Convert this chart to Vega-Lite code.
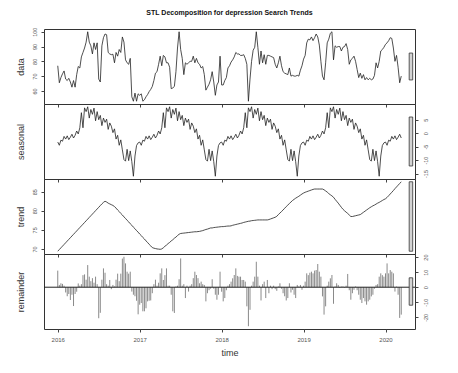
{
"$schema": "https://vega.github.io/schema/vega-lite/v6.json",
"autosize": {"type": "pad"},
"padding": {"left": 15, "top": 8, "right": 5, "bottom": 5},
"background": "white",
"bounds": "flush",
"spacing": 0,
"config": {
  "font": "Liberation Sans",
  "view": {"stroke": "#333", "strokeWidth": 1},
  "axis": {"labelFont": "Liberation Sans", "titleFont": "Liberation Sans", "labelColor": "#555", "titleColor": "#333", "tickColor": "#444", "domain": false, "grid": false, "titleFontWeight": "normal", "labelOverlap": false, "labelFlush": false, "labelBound": false}
},
"datasets": {
"bars": [
{"panel": "data", "lo": 67.4, "hi": 85.6},
{"panel": "seasonal", "lo": -12.2, "hi": 6.0},
{"panel": "trend", "lo": 69.4, "hi": 87.6},
{"panel": "remainder", "lo": -11.95, "hi": 6.25}
],
"ts": [
{"t":2016,"data":77,"seasonal":-3.3,"trend":69.4,"remainder":11},
{"t":2016.0192,"data":65.5,"seasonal":-4.5,"trend":69.84,"remainder":1.5},
{"t":2016.0385,"data":69,"seasonal":-2.6,"trend":70.29,"remainder":2.6},
{"t":2016.0577,"data":71.5,"seasonal":-3.0,"trend":70.73,"remainder":2.2},
{"t":2016.0769,"data":73.5,"seasonal":-1.2,"trend":71.17,"remainder":1.0},
{"t":2016.0962,"data":68,"seasonal":-2.2,"trend":71.61,"remainder":-3.5},
{"t":2016.1154,"data":67,"seasonal":-1.0,"trend":72.06,"remainder":-6},
{"t":2016.1346,"data":68.5,"seasonal":-2.4,"trend":72.5,"remainder":-4.5},
{"t":2016.1538,"data":66,"seasonal":-1.5,"trend":72.94,"remainder":-8.5},
{"t":2016.1731,"data":62.5,"seasonal":-0.4,"trend":73.39,"remainder":-5},
{"t":2016.1923,"data":67,"seasonal":-1.8,"trend":73.83,"remainder":-12.5},
{"t":2016.2115,"data":62.5,"seasonal":-0.8,"trend":74.27,"remainder":-4.5},
{"t":2016.2308,"data":71,"seasonal":0.8,"trend":74.71,"remainder":-3},
{"t":2016.25,"data":76.5,"seasonal":-0.3,"trend":75.16,"remainder":2.5},
{"t":2016.2692,"data":75.5,"seasonal":2.0,"trend":75.6,"remainder":1},
{"t":2016.2885,"data":83,"seasonal":7.6,"trend":76.04,"remainder":2},
{"t":2016.3077,"data":86,"seasonal":2.0,"trend":76.48,"remainder":8},
{"t":2016.3269,"data":89,"seasonal":9.4,"trend":76.93,"remainder":8.5},
{"t":2016.3462,"data":93,"seasonal":8.0,"trend":77.37,"remainder":5},
{"t":2016.3654,"data":100,"seasonal":9.8,"trend":77.81,"remainder":14.7},
{"t":2016.3846,"data":93,"seasonal":5.6,"trend":78.26,"remainder":7},
{"t":2016.4038,"data":90.5,"seasonal":8.8,"trend":78.7,"remainder":4},
{"t":2016.4231,"data":85,"seasonal":7.0,"trend":79.14,"remainder":6},
{"t":2016.4423,"data":92.5,"seasonal":9.3,"trend":79.58,"remainder":3},
{"t":2016.4615,"data":88,"seasonal":4.6,"trend":80.03,"remainder":7},
{"t":2016.4808,"data":92.5,"seasonal":8.0,"trend":80.47,"remainder":2},
{"t":2016.5,"data":68,"seasonal":5.0,"trend":80.91,"remainder":-20.6},
{"t":2016.5192,"data":66,"seasonal":6.6,"trend":81.36,"remainder":-17},
{"t":2016.5385,"data":90.5,"seasonal":2.8,"trend":81.8,"remainder":5},
{"t":2016.5577,"data":96,"seasonal":5.6,"trend":82.2,"remainder":12.5},
{"t":2016.5769,"data":98.5,"seasonal":4.0,"trend":82.5,"remainder":9.6},
{"t":2016.5962,"data":98,"seasonal":5.2,"trend":82.3,"remainder":2},
{"t":2016.6154,"data":86,"seasonal":1.4,"trend":82.0,"remainder":1},
{"t":2016.6346,"data":85,"seasonal":3.8,"trend":81.8,"remainder":4.8},
{"t":2016.6538,"data":84.5,"seasonal":2.6,"trend":81.6,"remainder":-1.3},
{"t":2016.6731,"data":84.8,"seasonal":0.2,"trend":81.4,"remainder":1.5},
{"t":2016.6923,"data":79,"seasonal":1.6,"trend":81.1,"remainder":0.5},
{"t":2016.7115,"data":86,"seasonal":-2.2,"trend":80.7,"remainder":5},
{"t":2016.7308,"data":83.5,"seasonal":-0.8,"trend":80.2,"remainder":9},
{"t":2016.75,"data":88,"seasonal":-4.5,"trend":79.8,"remainder":4},
{"t":2016.7692,"data":86,"seasonal":-2.5,"trend":79.3,"remainder":9},
{"t":2016.7885,"data":96.5,"seasonal":-6.2,"trend":78.9,"remainder":19},
{"t":2016.8077,"data":93,"seasonal":-9.8,"trend":78.4,"remainder":20.2},
{"t":2016.8269,"data":81,"seasonal":-10.4,"trend":78.0,"remainder":15.8},
{"t":2016.8462,"data":79,"seasonal":-6.0,"trend":77.5,"remainder":10.3},
{"t":2016.8654,"data":78,"seasonal":-10.2,"trend":77.1,"remainder":9},
{"t":2016.8846,"data":82,"seasonal":-6.6,"trend":76.6,"remainder":10.3},
{"t":2016.9038,"data":56,"seasonal":-10.6,"trend":76.2,"remainder":-2.9},
{"t":2016.9231,"data":53,"seasonal":-16.0,"trend":75.7,"remainder":-5},
{"t":2016.9423,"data":58.5,"seasonal":-8.5,"trend":75.3,"remainder":-6},
{"t":2016.9615,"data":53,"seasonal":-4.6,"trend":74.8,"remainder":-9},
{"t":2016.9808,"data":58,"seasonal":-3.6,"trend":74.4,"remainder":-18},
{"t":2017,"data":57,"seasonal":-3.3,"trend":73.9,"remainder":-11.6},
{"t":2017.0192,"data":58,"seasonal":-4.5,"trend":73.5,"remainder":-10.5},
{"t":2017.0385,"data":53,"seasonal":-2.6,"trend":73.0,"remainder":-16},
{"t":2017.0577,"data":54,"seasonal":-3.0,"trend":72.6,"remainder":-16},
{"t":2017.0769,"data":56,"seasonal":-1.2,"trend":72.1,"remainder":-14},
{"t":2017.0962,"data":57.5,"seasonal":-2.2,"trend":71.7,"remainder":-9.4},
{"t":2017.1154,"data":59.5,"seasonal":-1.0,"trend":71.2,"remainder":-9},
{"t":2017.1346,"data":61,"seasonal":-2.4,"trend":70.8,"remainder":-8.8},
{"t":2017.1538,"data":63,"seasonal":-1.5,"trend":70.35,"remainder":-4},
{"t":2017.1731,"data":67,"seasonal":-0.4,"trend":70.2,"remainder":2},
{"t":2017.1923,"data":72,"seasonal":-1.8,"trend":70.1,"remainder":5},
{"t":2017.2115,"data":73,"seasonal":-0.8,"trend":70.0,"remainder":1},
{"t":2017.2308,"data":78,"seasonal":0.8,"trend":69.95,"remainder":3},
{"t":2017.25,"data":83.5,"seasonal":-0.3,"trend":69.9,"remainder":9.2},
{"t":2017.2692,"data":77,"seasonal":2.0,"trend":70.0,"remainder":12.5},
{"t":2017.2885,"data":84,"seasonal":7.6,"trend":70.3,"remainder":4.8},
{"t":2017.3077,"data":83,"seasonal":2.0,"trend":70.7,"remainder":8},
{"t":2017.3269,"data":79,"seasonal":9.4,"trend":71.0,"remainder":12.5},
{"t":2017.3462,"data":79,"seasonal":8.0,"trend":71.4,"remainder":1},
{"t":2017.3654,"data":76,"seasonal":9.8,"trend":71.7,"remainder":1},
{"t":2017.3846,"data":61.5,"seasonal":5.6,"trend":72.1,"remainder":-5},
{"t":2017.4038,"data":62,"seasonal":8.8,"trend":72.4,"remainder":-16},
{"t":2017.4231,"data":63,"seasonal":7.0,"trend":72.8,"remainder":-17.1},
{"t":2017.4423,"data":73,"seasonal":9.3,"trend":73.1,"remainder":0.5},
{"t":2017.4615,"data":89,"seasonal":4.6,"trend":73.5,"remainder":1},
{"t":2017.4808,"data":100,"seasonal":8.0,"trend":73.85,"remainder":5.3},
{"t":2017.5,"data":88,"seasonal":5.0,"trend":74.05,"remainder":19.1},
{"t":2017.5192,"data":82,"seasonal":6.6,"trend":74.1,"remainder":1},
{"t":2017.5385,"data":71,"seasonal":2.8,"trend":74.15,"remainder":2},
{"t":2017.5577,"data":79,"seasonal":5.6,"trend":74.2,"remainder":-7.2},
{"t":2017.5769,"data":78,"seasonal":4.0,"trend":74.25,"remainder":1},
{"t":2017.5962,"data":79,"seasonal":5.2,"trend":74.3,"remainder":-2.9},
{"t":2017.6154,"data":80,"seasonal":1.4,"trend":74.35,"remainder":1},
{"t":2017.6346,"data":80,"seasonal":3.8,"trend":74.4,"remainder":2},
{"t":2017.6538,"data":83.5,"seasonal":2.6,"trend":74.45,"remainder":6},
{"t":2017.6731,"data":79,"seasonal":0.2,"trend":74.5,"remainder":10.3},
{"t":2017.6923,"data":82,"seasonal":1.6,"trend":74.5,"remainder":8.1},
{"t":2017.7115,"data":79,"seasonal":-2.2,"trend":74.55,"remainder":6},
{"t":2017.7308,"data":78,"seasonal":-0.8,"trend":74.6,"remainder":2.6},
{"t":2017.75,"data":75.5,"seasonal":-4.5,"trend":74.7,"remainder":3.7},
{"t":2017.7692,"data":76.5,"seasonal":-2.5,"trend":74.8,"remainder":2},
{"t":2017.7885,"data":71,"seasonal":-6.2,"trend":74.95,"remainder":1.5},
{"t":2017.8077,"data":60.5,"seasonal":-9.8,"trend":75.1,"remainder":-9.4},
{"t":2017.8269,"data":62.5,"seasonal":-10.4,"trend":75.2,"remainder":-4},
{"t":2017.8462,"data":64.5,"seasonal":-6.0,"trend":75.35,"remainder":-2},
{"t":2017.8654,"data":67.5,"seasonal":-10.2,"trend":75.5,"remainder":-1},
{"t":2017.8846,"data":73,"seasonal":-6.6,"trend":75.5,"remainder":5.3},
{"t":2017.9038,"data":66,"seasonal":-10.6,"trend":75.6,"remainder":-1},
{"t":2017.9231,"data":57,"seasonal":-16.0,"trend":75.65,"remainder":-5},
{"t":2017.9423,"data":64,"seasonal":-8.5,"trend":75.7,"remainder":-8.3},
{"t":2017.9615,"data":66,"seasonal":-4.6,"trend":75.75,"remainder":-5},
{"t":2017.9808,"data":83.5,"seasonal":-3.6,"trend":75.8,"remainder":10.3},
{"t":2018,"data":64,"seasonal":-3.3,"trend":75.85,"remainder":-3},
{"t":2018.0192,"data":64,"seasonal":-4.5,"trend":75.85,"remainder":-9.4},
{"t":2018.0385,"data":67,"seasonal":-2.6,"trend":75.9,"remainder":-7.2},
{"t":2018.0577,"data":69,"seasonal":-3.0,"trend":75.95,"remainder":-2},
{"t":2018.0769,"data":75.5,"seasonal":-1.2,"trend":76.0,"remainder":1},
{"t":2018.0962,"data":77,"seasonal":-2.2,"trend":76.0,"remainder":2},
{"t":2018.1154,"data":79.5,"seasonal":-1.0,"trend":76.05,"remainder":3.7},
{"t":2018.1346,"data":81,"seasonal":-2.4,"trend":76.2,"remainder":5.9},
{"t":2018.1538,"data":83,"seasonal":-1.5,"trend":76.3,"remainder":8.1},
{"t":2018.1731,"data":86,"seasonal":-0.4,"trend":76.4,"remainder":12.5},
{"t":2018.1923,"data":85,"seasonal":-1.8,"trend":76.5,"remainder":7.5},
{"t":2018.2115,"data":85,"seasonal":-0.8,"trend":76.6,"remainder":7},
{"t":2018.2308,"data":84,"seasonal":0.8,"trend":76.7,"remainder":7},
{"t":2018.25,"data":84,"seasonal":-0.3,"trend":76.8,"remainder":4.8},
{"t":2018.2692,"data":84.5,"seasonal":2.0,"trend":76.95,"remainder":4.8},
{"t":2018.2885,"data":82,"seasonal":7.6,"trend":77.05,"remainder":3.7},
{"t":2018.3077,"data":78,"seasonal":2.0,"trend":77.15,"remainder":-12.7},
{"t":2018.3269,"data":53,"seasonal":9.4,"trend":77.25,"remainder":-25.9},
{"t":2018.3462,"data":68,"seasonal":8.0,"trend":77.3,"remainder":-15},
{"t":2018.3654,"data":80,"seasonal":9.8,"trend":77.4,"remainder":1},
{"t":2018.3846,"data":87.5,"seasonal":5.6,"trend":77.45,"remainder":3.7},
{"t":2018.4038,"data":89.5,"seasonal":8.8,"trend":77.5,"remainder":7},
{"t":2018.4231,"data":100,"seasonal":7.0,"trend":77.55,"remainder":16.9},
{"t":2018.4423,"data":89.5,"seasonal":9.3,"trend":77.6,"remainder":7},
{"t":2018.4615,"data":78,"seasonal":4.6,"trend":77.6,"remainder":1},
{"t":2018.4808,"data":87,"seasonal":8.0,"trend":77.6,"remainder":-8.8},
{"t":2018.5,"data":79,"seasonal":5.0,"trend":77.6,"remainder":2},
{"t":2018.5192,"data":84.5,"seasonal":6.6,"trend":77.6,"remainder":3.7},
{"t":2018.5385,"data":78,"seasonal":2.8,"trend":77.6,"remainder":-7.2},
{"t":2018.5577,"data":84,"seasonal":5.6,"trend":77.6,"remainder":4.8},
{"t":2018.5769,"data":84,"seasonal":4.0,"trend":77.7,"remainder":-4},
{"t":2018.5962,"data":83.5,"seasonal":5.2,"trend":77.85,"remainder":1},
{"t":2018.6154,"data":83,"seasonal":1.4,"trend":78.0,"remainder":-1.3},
{"t":2018.6346,"data":82.5,"seasonal":3.8,"trend":78.15,"remainder":1},
{"t":2018.6538,"data":78,"seasonal":2.6,"trend":78.3,"remainder":-1.3},
{"t":2018.6731,"data":75.5,"seasonal":0.2,"trend":78.55,"remainder":-2.4},
{"t":2018.6923,"data":79,"seasonal":1.6,"trend":79.0,"remainder":0.5},
{"t":2018.7115,"data":83.5,"seasonal":-2.2,"trend":79.4,"remainder":2.6},
{"t":2018.7308,"data":77,"seasonal":-0.8,"trend":79.8,"remainder":-1},
{"t":2018.75,"data":73,"seasonal":-4.5,"trend":80.2,"remainder":-4},
{"t":2018.7692,"data":72,"seasonal":-2.5,"trend":80.65,"remainder":-6},
{"t":2018.7885,"data":71.5,"seasonal":-6.2,"trend":81.1,"remainder":-8.8},
{"t":2018.8077,"data":71,"seasonal":-9.8,"trend":81.5,"remainder":-7.2},
{"t":2018.8269,"data":75.5,"seasonal":-10.4,"trend":81.9,"remainder":2.6},
{"t":2018.8462,"data":70,"seasonal":-6.0,"trend":82.3,"remainder":-3.5},
{"t":2018.8654,"data":70.5,"seasonal":-10.2,"trend":82.7,"remainder":-1.7},
{"t":2018.8846,"data":70,"seasonal":-6.6,"trend":83.0,"remainder":-5},
{"t":2018.9038,"data":70,"seasonal":-10.6,"trend":83.3,"remainder":-7.2},
{"t":2018.9231,"data":70.5,"seasonal":-16.0,"trend":83.55,"remainder":1.5},
{"t":2018.9423,"data":70,"seasonal":-8.5,"trend":83.8,"remainder":0.5},
{"t":2018.9615,"data":74,"seasonal":-4.6,"trend":84.1,"remainder":1.5},
{"t":2018.9808,"data":77,"seasonal":-3.6,"trend":84.4,"remainder":-1.7},
{"t":2019,"data":81.5,"seasonal":-3.3,"trend":84.65,"remainder":1},
{"t":2019.0192,"data":84,"seasonal":-4.5,"trend":84.85,"remainder":3.7},
{"t":2019.0385,"data":92.5,"seasonal":-2.6,"trend":85.0,"remainder":9.2},
{"t":2019.0577,"data":95,"seasonal":-3.0,"trend":85.15,"remainder":8},
{"t":2019.0769,"data":94.5,"seasonal":-1.2,"trend":85.3,"remainder":9.6},
{"t":2019.0962,"data":96.5,"seasonal":-2.2,"trend":85.45,"remainder":10.3},
{"t":2019.1154,"data":94,"seasonal":-1.0,"trend":85.6,"remainder":9.2},
{"t":2019.1346,"data":96,"seasonal":-2.4,"trend":85.7,"remainder":11},
{"t":2019.1538,"data":98.5,"seasonal":-1.5,"trend":85.7,"remainder":11.4},
{"t":2019.1731,"data":96.5,"seasonal":-0.4,"trend":85.7,"remainder":15.4},
{"t":2019.1923,"data":91,"seasonal":-1.8,"trend":85.7,"remainder":10.3},
{"t":2019.2115,"data":80,"seasonal":-0.8,"trend":85.7,"remainder":7},
{"t":2019.2308,"data":70,"seasonal":0.8,"trend":85.7,"remainder":-6.1},
{"t":2019.25,"data":67.5,"seasonal":-0.3,"trend":85.5,"remainder":-18.2},
{"t":2019.2692,"data":79,"seasonal":2.0,"trend":85.2,"remainder":-12.7},
{"t":2019.2885,"data":92.5,"seasonal":7.6,"trend":84.9,"remainder":1},
{"t":2019.3077,"data":95,"seasonal":2.0,"trend":84.5,"remainder":3.7},
{"t":2019.3269,"data":99,"seasonal":9.4,"trend":84.2,"remainder":5.9},
{"t":2019.3462,"data":100,"seasonal":8.0,"trend":83.9,"remainder":8.1},
{"t":2019.3654,"data":81,"seasonal":9.8,"trend":83.55,"remainder":-11},
{"t":2019.3846,"data":90.5,"seasonal":5.6,"trend":83.0,"remainder":0.5},
{"t":2019.4038,"data":89.5,"seasonal":8.8,"trend":82.5,"remainder":2.6},
{"t":2019.4231,"data":90,"seasonal":7.0,"trend":82.0,"remainder":1.5},
{"t":2019.4423,"data":90,"seasonal":9.3,"trend":81.45,"remainder":-0.5},
{"t":2019.4615,"data":87,"seasonal":4.6,"trend":80.9,"remainder":0.4},
{"t":2019.4808,"data":89.5,"seasonal":8.0,"trend":80.4,"remainder":0.5},
{"t":2019.5,"data":90,"seasonal":5.0,"trend":80.0,"remainder":-0.3},
{"t":2019.5192,"data":92,"seasonal":6.6,"trend":79.65,"remainder":1},
{"t":2019.5385,"data":88,"seasonal":2.8,"trend":79.3,"remainder":8.8},
{"t":2019.5577,"data":78,"seasonal":5.6,"trend":78.9,"remainder":-2},
{"t":2019.5769,"data":81,"seasonal":4.0,"trend":78.5,"remainder":-8.3},
{"t":2019.5962,"data":82,"seasonal":5.2,"trend":78.5,"remainder":-4},
{"t":2019.6154,"data":83.5,"seasonal":1.4,"trend":78.6,"remainder":-1.7},
{"t":2019.6346,"data":80,"seasonal":3.8,"trend":78.7,"remainder":0.5},
{"t":2019.6538,"data":74.5,"seasonal":2.6,"trend":78.8,"remainder":-2},
{"t":2019.6731,"data":69,"seasonal":0.2,"trend":78.9,"remainder":-5},
{"t":2019.6923,"data":72,"seasonal":1.6,"trend":79.0,"remainder":-8.3},
{"t":2019.7115,"data":68.5,"seasonal":-2.2,"trend":79.3,"remainder":-10.5},
{"t":2019.7308,"data":71,"seasonal":-0.8,"trend":79.6,"remainder":-7.2},
{"t":2019.75,"data":67.5,"seasonal":-4.5,"trend":79.9,"remainder":-9.4},
{"t":2019.7692,"data":69,"seasonal":-2.5,"trend":80.2,"remainder":-11.6},
{"t":2019.7885,"data":67.5,"seasonal":-6.2,"trend":80.5,"remainder":-9.4},
{"t":2019.8077,"data":68.5,"seasonal":-9.8,"trend":80.8,"remainder":-8.3},
{"t":2019.8269,"data":67.5,"seasonal":-10.4,"trend":81.05,"remainder":-6.1},
{"t":2019.8462,"data":68,"seasonal":-6.0,"trend":81.3,"remainder":-5},
{"t":2019.8654,"data":70.5,"seasonal":-10.2,"trend":81.5,"remainder":-1},
{"t":2019.8846,"data":79,"seasonal":-6.6,"trend":81.75,"remainder":1.5},
{"t":2019.9038,"data":75.5,"seasonal":-10.6,"trend":82.0,"remainder":2},
{"t":2019.9231,"data":80,"seasonal":-16.0,"trend":82.2,"remainder":7},
{"t":2019.9423,"data":87,"seasonal":-8.5,"trend":82.45,"remainder":9.2},
{"t":2019.9615,"data":88,"seasonal":-4.6,"trend":82.7,"remainder":8},
{"t":2019.9808,"data":89.5,"seasonal":-3.6,"trend":82.95,"remainder":7},
{"t":2020,"data":91.5,"seasonal":-3.3,"trend":83.15,"remainder":9.2},
{"t":2020.0192,"data":92.5,"seasonal":-4.5,"trend":83.5,"remainder":15.8},
{"t":2020.0385,"data":94,"seasonal":-2.6,"trend":83.95,"remainder":9.2},
{"t":2020.0577,"data":96,"seasonal":-3.0,"trend":84.4,"remainder":11.4},
{"t":2020.0769,"data":95.5,"seasonal":-1.2,"trend":84.85,"remainder":10.3},
{"t":2020.0962,"data":89,"seasonal":-2.2,"trend":85.3,"remainder":9.2},
{"t":2020.1154,"data":80,"seasonal":-1.0,"trend":85.8,"remainder":-2.9},
{"t":2020.1346,"data":84,"seasonal":-2.4,"trend":86.25,"remainder":0.4},
{"t":2020.1538,"data":76,"seasonal":-1.5,"trend":86.7,"remainder":-5},
{"t":2020.1731,"data":65.5,"seasonal":-0.4,"trend":87.15,"remainder":-20.4},
{"t":2020.1923,"data":70,"seasonal":-1.8,"trend":87.6,"remainder":-18.2}
]
},
"vconcat": [
{
  "width": 371, "height": 75,
  "title": {"text": "STL Decomposition for depression Search Trends", "font": "Liberation Sans", "fontSize": 7, "fontWeight": "bold", "color": "#111", "anchor": "middle", "frame": "group", "offset": 11},
  "resolve": {"axis": {"x": "independent", "y": "independent"}},
  "layer": [
    {"data": {"name": "ts"}, "mark": {"type": "line", "color": "#222", "strokeWidth": 0.8},
     "encoding": {
       "x": {"field": "t", "type": "quantitative", "scale": {"domain": [2015.832, 2020.36], "nice": false, "zero": false}, "axis": {"values": [2016, 2017, 2018, 2019, 2020], "labels": false, "tickSize": 3, "title": null}},
       "y": {"field": "data", "type": "quantitative", "scale": {"domain": [51.12, 101.88], "nice": false, "zero": false}, "axis": {"orient": "left", "values": [60, 70, 80, 90, 100], "labelAngle": -90, "labelFontSize": 5.5, "tickSize": 3, "labelPadding": 4, "minExtent": 14, "maxExtent": 14, "title": "data", "titleFontSize": 9, "titleFontWeight": "normal", "titlePadding": 5}}
     }},
    {"data": {"name": "bars"}, "transform": [{"filter": "datum.panel === 'data'"}], "mark": {"type": "rect", "fill": "#d3d3d3", "stroke": "#333", "strokeWidth": 0.8},
     "encoding": {
       "x": {"datum": 2020.289, "scale": {"domain": [2015.832, 2020.36], "nice": false, "zero": false}, "axis": null}, "x2": {"datum": 2020.332},
       "y": {"field": "lo", "type": "quantitative", "scale": {"domain": [51.12, 101.88], "nice": false, "zero": false}, "axis": null}, "y2": {"field": "hi"}
     }}
  ]
},
{
  "width": 371, "height": 75,
  "resolve": {"axis": {"x": "independent", "y": "independent"}},
  "layer": [
    {"data": {"name": "ts"}, "mark": {"type": "line", "color": "#222", "strokeWidth": 0.8},
     "encoding": {
       "x": {"field": "t", "type": "quantitative", "scale": {"domain": [2015.832, 2020.36], "nice": false, "zero": false}, "axis": {"values": [2016, 2017, 2018, 2019, 2020], "labels": false, "tickSize": 3, "title": null}},
       "y": {"field": "seasonal", "type": "quantitative", "scale": {"domain": [-17.032, 10.832], "nice": false, "zero": false}, "axis": {"orient": "left", "labels": false, "ticks": false, "minExtent": 14, "maxExtent": 14, "title": "seasonal", "titleFontSize": 9, "titleFontWeight": "normal", "titlePadding": 5}}
     }},
    {"data": {"name": "bars"}, "transform": [{"filter": "datum.panel === 'seasonal'"}], "mark": {"type": "rect", "fill": "#d3d3d3", "stroke": "#333", "strokeWidth": 0.8},
     "encoding": {
       "x": {"datum": 2020.289, "scale": {"domain": [2015.832, 2020.36], "nice": false, "zero": false}, "axis": null}, "x2": {"datum": 2020.332},
       "y": {"field": "lo", "type": "quantitative", "scale": {"domain": [-17.032, 10.832], "nice": false, "zero": false}, "axis": {"orient": "right", "values": [-15, -10, -5, 0, 5], "labelExpr": "'' + datum.value", "labelAngle": -90, "labelFontSize": 5.5, "tickSize": 3, "labelPadding": 5.5, "minExtent": 0, "title": null}}, "y2": {"field": "hi"}
     }}
  ]
},
{
  "width": 371, "height": 75,
  "resolve": {"axis": {"x": "independent", "y": "independent"}},
  "layer": [
    {"data": {"name": "ts"}, "mark": {"type": "line", "color": "#222", "strokeWidth": 0.8},
     "encoding": {
       "x": {"field": "t", "type": "quantitative", "scale": {"domain": [2015.832, 2020.36], "nice": false, "zero": false}, "axis": {"values": [2016, 2017, 2018, 2019, 2020], "labels": false, "tickSize": 3, "title": null}},
       "y": {"field": "trend", "type": "quantitative", "scale": {"domain": [68.672, 88.328], "nice": false, "zero": false}, "axis": {"orient": "left", "values": [70, 75, 80, 85], "labelAngle": -90, "labelFontSize": 5.5, "tickSize": 3, "labelPadding": 4, "minExtent": 14, "maxExtent": 14, "title": "trend", "titleFontSize": 9, "titleFontWeight": "normal", "titlePadding": 5}}
     }},
    {"data": {"name": "bars"}, "transform": [{"filter": "datum.panel === 'trend'"}], "mark": {"type": "rect", "fill": "#d3d3d3", "stroke": "#333", "strokeWidth": 0.8},
     "encoding": {
       "x": {"datum": 2020.289, "scale": {"domain": [2015.832, 2020.36], "nice": false, "zero": false}, "axis": null}, "x2": {"datum": 2020.332},
       "y": {"field": "lo", "type": "quantitative", "scale": {"domain": [68.672, 88.328], "nice": false, "zero": false}, "axis": null}, "y2": {"field": "hi"}
     }}
  ]
},
{
  "width": 371, "height": 75,
  "resolve": {"axis": {"x": "independent", "y": "independent"}},
  "layer": [
    {"data": {"name": "ts"}, "mark": {"type": "rule", "color": "#8a8a8a", "strokeWidth": 1},
     "encoding": {
       "x": {"field": "t", "type": "quantitative", "scale": {"domain": [2015.832, 2020.36], "nice": false, "zero": false}, "axis": {"values": [2016, 2017, 2018, 2019, 2020], "format": "d", "labelFontSize": 6, "tickSize": 3, "labelPadding": 4, "title": "time", "titleFontSize": 9, "titleFontWeight": "normal", "titlePadding": 6}},
       "y": {"field": "remainder", "type": "quantitative", "scale": {"domain": [-27.744, 22.044], "nice": false, "zero": false}, "axis": {"orient": "left", "labels": false, "ticks": false, "minExtent": 14, "maxExtent": 14, "title": "remainder", "titleFontSize": 9, "titleFontWeight": "normal", "titlePadding": 5}},
       "y2": {"datum": 0}
     }},
    {"data": {"name": "bars"}, "transform": [{"filter": "datum.panel === 'remainder'"}], "mark": {"type": "rule", "color": "#222", "strokeWidth": 1},
     "encoding": {
       "y": {"datum": 0, "scale": {"domain": [-27.744, 22.044], "nice": false, "zero": false}, "axis": null}
     }},
    {"data": {"name": "bars"}, "transform": [{"filter": "datum.panel === 'remainder'"}], "mark": {"type": "rect", "fill": "#d3d3d3", "stroke": "#333", "strokeWidth": 0.8},
     "encoding": {
       "x": {"datum": 2020.289, "scale": {"domain": [2015.832, 2020.36], "nice": false, "zero": false}, "axis": null}, "x2": {"datum": 2020.332},
       "y": {"field": "lo", "type": "quantitative", "scale": {"domain": [-27.744, 22.044], "nice": false, "zero": false}, "axis": {"orient": "right", "values": [-20, -10, 0, 10, 20], "labelExpr": "'' + datum.value", "labelAngle": -90, "labelFontSize": 5.5, "tickSize": 3, "labelPadding": 5.5, "minExtent": 0, "title": null}}, "y2": {"field": "hi"}
     }}
  ]
}
]
}
